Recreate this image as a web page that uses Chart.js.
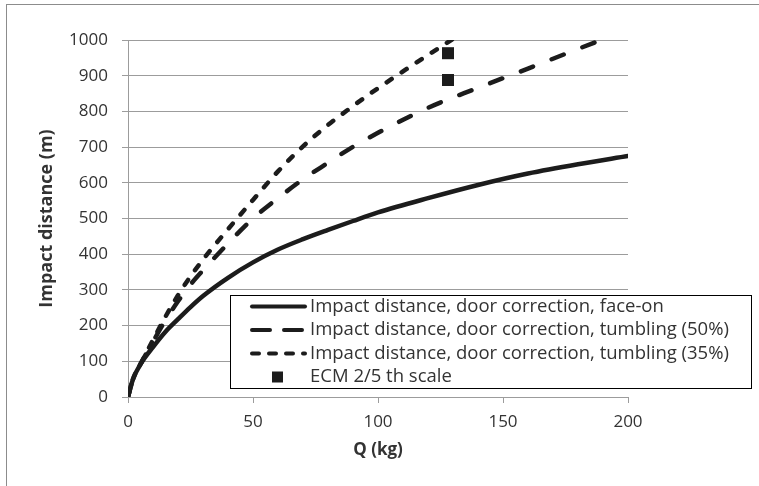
<!DOCTYPE html>
<html>
<head>
<meta charset="utf-8">
<script src="https://cdn.jsdelivr.net/npm/chart.js@4"></script>
<style>
  html, body { margin: 0; padding: 0; background: #fff; overflow: hidden; }
  #wrap { position: absolute; left: 0; top: 0; width: 759px; height: 486px; }
  #frame { position: absolute; left: 6px; top: 4px; width: 900px; height: 700px;
           border-left: 1px solid #8c8c8c; border-top: 1px solid #8c8c8c; pointer-events: none; }
</style>
</head>
<body>
<div id="wrap"><canvas id="c" width="759" height="486"></canvas></div>
<div id="frame"></div>
<script>
// ---- data ----
const seriesNames = [
  'Impact distance, door correction, face-on',
  'Impact distance, door correction, tumbling (50%)',
  'Impact distance, door correction, tumbling (35%)',
  'ECM 2/5 th scale'
];
const qFace   = [0, 2, 5, 10, 15, 20, 25, 30, 40, 50, 60, 70, 80, 90, 100, 120, 140, 160, 180, 200];
const faceOn  = [0, 50, 92, 140, 183, 218, 252, 283, 334, 377, 413, 442, 468, 493, 517, 557, 594, 626, 652, 675];
const q50     = [0, 2, 5, 10, 15, 20, 25, 30, 40, 50, 60, 70, 80, 90, 100, 120, 140, 160, 180, 190, 200];
const tumb50  = [0, 50, 92, 155, 215, 268, 315, 355, 430, 500, 557, 610, 656, 701, 740, 810, 866, 920, 975, 1002, 1028];
const q35     = [0, 2, 5, 10, 15, 20, 25, 30, 40, 50, 60, 70, 80, 90, 100, 110, 120, 130, 140];
const tumb35  = [0, 50, 92, 160, 225, 285, 338, 385, 470, 552, 632, 702, 762, 815, 865, 912, 958, 1003, 1046];
const ecmQ    = [128, 128];
const ecmDist = [963, 888];
const xTicks  = [0, 50, 100, 150, 200];
const yTicks  = [0, 100, 200, 300, 400, 500, 600, 700, 800, 900, 1000];

const ink = '#1c1c1c';
const textCol = '#333333';
const gridCol = '#9c9c9c';
const FONT = '"Open Sans", Lato, sans-serif';
const FS = 17;

const pts = (xs, ys) => xs.map((x, i) => ({ x: x, y: ys[i] }));

const styles = [
  { dash: [], cap: 'round' },
  { dash: [13, 20], cap: 'round' },
  { dash: [6, 12], cap: 'round' }
];

const legendPlugin = {
  id: 'boxLegend',
  afterDraw(chart) {
    const ctx = chart.ctx;
    const bx = 230.5, by = 295.5, bw = 521, bh = 93;
    ctx.save();
    ctx.fillStyle = '#ffffff';
    ctx.fillRect(bx, by, bw, bh);
    ctx.strokeStyle = '#000';
    ctx.lineWidth = 1;
    ctx.strokeRect(bx, by, bw, bh);
    const rows = [306.5, 330, 353.5, 377];
    ctx.font = '18.5px ' + FONT;
    ctx.textBaseline = 'middle';
    ctx.textAlign = 'left';
    chart.data.datasets.forEach((ds, i) => {
      const y = rows[i];
      ctx.strokeStyle = ink;
      ctx.fillStyle = ink;
      if (i < 3) {
        ctx.lineWidth = 4;
        ctx.lineCap = 'round';
        ctx.setLineDash(i === 1 ? [18, 14] : (i === 2 ? [7, 10] : []));
        ctx.beginPath();
        ctx.moveTo(252, y);
        ctx.lineTo(305, y);
        ctx.stroke();
        ctx.setLineDash([]);
      } else {
        ctx.fillRect(272, y - 5.5, 11, 11);
      }
      ctx.fillStyle = textCol;
      ctx.fillText(ds.label, 310, y);
    });
    ctx.restore();
  }
};

const datasets = [
  { label: seriesNames[0], data: pts(qFace, faceOn) },
  { label: seriesNames[1], data: pts(q50, tumb50) },
  { label: seriesNames[2], data: pts(q35, tumb35) }
].map((d, i) => Object.assign(d, {
  type: 'line',
  borderColor: ink,
  backgroundColor: ink,
  borderWidth: 4.5,
  borderDash: styles[i].dash,
  borderCapStyle: styles[i].cap,
  pointRadius: 0,
  pointHoverRadius: 0,
  fill: false,
  cubicInterpolationMode: 'monotone'
}));
datasets.push({
  type: 'scatter',
  label: seriesNames[3],
  data: pts(ecmQ, ecmDist),
  pointStyle: 'rect',
  pointRadius: 8.5,
  borderWidth: 0,
  backgroundColor: ink,
  borderColor: ink,
  showLine: false
});

new Chart(document.getElementById('c'), {
  type: 'line',
  data: { datasets: datasets },
  plugins: [legendPlugin],
  options: {
    responsive: false,
    animation: false,
    layout: { padding: { top: 40, right: 131, left: 0, bottom: 0 } },
    plugins: { legend: { display: false }, tooltip: { enabled: false } },
    scales: {
      x: {
        type: 'linear',
        min: 0, max: 200,
        afterBuildTicks: (s) => { s.ticks = xTicks.map(v => ({ value: v })); },
        afterFit: (s) => { s.height = 89; },
        grid: { drawOnChartArea: false, drawTicks: true, tickLength: 6, color: gridCol, lineWidth: 1 },
        border: { color: gridCol, width: 1 },
        ticks: { color: textCol, font: { family: FONT, size: FS }, padding: 9, maxRotation: 0,
                 callback: (v) => String(v) },
        title: { display: true, text: 'Q (kg)', color: textCol,
                 font: { family: FONT, size: FS, weight: 'bold' }, padding: { top: 0, bottom: 26 } }
      },
      y: {
        type: 'linear',
        min: 0, max: 1000,
        afterBuildTicks: (s) => { s.ticks = yTicks.map(v => ({ value: v })); },
        afterFit: (s) => { s.width = 128; },
        grid: { drawOnChartArea: true, drawTicks: true, tickLength: 6, color: gridCol, lineWidth: 1 },
        border: { color: gridCol, width: 1 },
        ticks: { color: textCol, font: { family: FONT, size: FS }, padding: 14,
                 callback: (v) => String(v) },
        title: { display: true, text: 'Impact distance (m)', color: textCol,
                 font: { family: FONT, size: 18, weight: 'bold' }, padding: { top: 36, bottom: 0 } }
      }
    }
  }
});
</script>
</body>
</html>
